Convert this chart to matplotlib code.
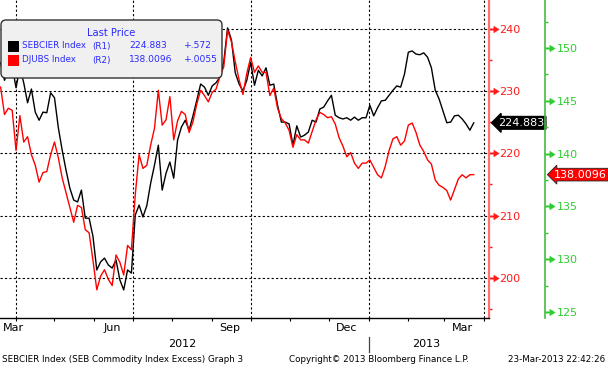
# -*- coding: UTF-8 -*-
import datetime as dt
import numpy as np
import pandas as pd
import matplotlib
matplotlib.use('Agg')
import matplotlib.pyplot as plt
import matplotlib.dates as mdates
from matplotlib.patches import FancyBboxPatch, Rectangle
from matplotlib.path import Path
from matplotlib.markers import MarkerStyle
from matplotlib.transforms import blended_transform_factory

# SEBCIER Index (R1), every 3 days from 20-Mar-2012
sebcier = [234.5, 231.7, 233.3, 234.0, 230.5, 233.7, 231.3, 228.1, 230.3, 226.6,
           225.3, 226.6, 226.5, 229.7, 228.9, 224.1, 220.5, 217.3, 214.4, 212.5,
           212.2, 214.1, 209.6, 209.6, 206.7, 201.3, 202.6, 203.2, 202.1, 201.6,
           202.9, 199.7, 198.1, 201.3, 200.8, 210.1, 211.7, 209.8, 211.6, 215.2,
           218.1, 221.3, 214.1, 216.8, 218.6, 216.0, 222.1, 224.2, 225.3, 223.7,
           226.0, 228.5, 231.1, 230.6, 229.3, 230.8, 231.3, 232.2, 234.6, 240.1,
           238.2, 232.9, 231.1, 230.0, 231.7, 234.6, 230.9, 233.3, 232.4, 233.7,
           230.9, 231.1, 227.7, 225.0, 225.0, 224.7, 221.3, 224.4, 222.6, 222.9,
           223.4, 225.3, 225.0, 227.1, 227.4, 228.4, 229.3, 226.1, 225.7, 225.5,
           225.7, 225.3, 225.8, 225.3, 225.7, 225.7, 227.7, 226.0, 227.3, 228.4,
           228.5, 229.3, 230.1, 230.8, 230.6, 232.7, 236.2, 236.4, 235.9, 235.8,
           236.1, 235.4, 233.7, 230.1, 228.7, 226.8, 224.9, 225.0, 226.0, 226.1,
           225.5, 224.7, 223.7, 224.883]

# DJUBS Index (R2)
djubs = [146.3, 143.7, 144.3, 144.1, 140.3, 143.6, 141.1, 141.6, 139.9, 138.9,
         137.3, 138.2, 138.3, 139.9, 141.1, 139.6, 137.7, 136.3, 134.9, 133.5,
         135.1, 134.9, 132.8, 132.5, 129.9, 127.1, 128.4, 129.0, 128.1, 127.5,
         130.4, 129.7, 128.5, 131.3, 130.9, 136.1, 139.9, 138.6, 138.9, 140.8,
         142.4, 146.0, 142.7, 143.2, 145.4, 141.3, 143.1, 144.0, 143.7, 142.0,
         143.0, 144.7, 146.0, 145.5, 144.9, 145.8, 146.1, 147.3, 148.2, 151.7,
         150.6, 148.7, 147.0, 145.6, 147.6, 149.1, 147.7, 148.3, 147.7, 147.7,
         145.5, 146.2, 144.3, 143.3, 142.9, 142.2, 140.6, 141.8, 141.3, 141.3,
         141.0, 142.1, 143.2, 143.9, 143.7, 143.4, 143.5, 142.8, 141.5, 140.7,
         139.7, 140.1, 139.1, 138.6, 139.1, 139.1, 139.4, 138.7, 138.0, 137.7,
         138.8, 140.3, 141.4, 141.6, 140.8, 141.2, 142.7, 142.9, 142.0, 140.8,
         140.2, 139.4, 139.0, 137.5, 137.0, 136.8, 136.5, 135.6, 136.6, 137.6,
         138.0, 137.7, 138.0, 138.0096]

dates = pd.date_range('2012-03-20', periods=len(sebcier), freq='3D')

r1_ticks = [200, 210, 220, 230, 240]
r1_minor = [195, 205, 215, 225, 235]
r2_ticks = [125, 130, 135, 140, 145, 150]
r2_minor = [127.5, 132.5, 137.5, 142.5, 147.5, 152.5]

month_labels = ['Mar', 'Jun', 'Sep', 'Dec', 'Mar']
month_label_dates = [dt.datetime(2012, 3, 30), dt.datetime(2012, 6, 15), dt.datetime(2012, 9, 15),
                     dt.datetime(2012, 12, 15), dt.datetime(2013, 3, 15)]
year_labels = ['2012', '2013']
year_label_dates = [dt.datetime(2012, 8, 9), dt.datetime(2013, 2, 15)]

RED = '#ff1a1a'
GREEN = '#2ecc2e'
BLUE = '#2a2aff'

W, H = 608, 368
fig = plt.figure(figsize=(W / 100, H / 100), dpi=100)
ax = fig.add_axes([0, 50 / H, 489 / W, 318 / H])
ax2 = ax.twinx()

ax.plot(dates, sebcier, color='black', lw=1.0)
ax2.plot(dates, djubs, color='#ff0000', lw=1.0)

ax.set_xlim(dt.datetime(2012, 3, 19, 12), dt.datetime(2013, 4, 4, 22))
ax.set_ylim(193.6, 244.57)
ax2.set_ylim(124.43, 154.55)

# spines
for s in ['left', 'top']:
    ax.spines[s].set_visible(False)
    ax2.spines[s].set_visible(False)
ax2.spines['bottom'].set_visible(False)
ax.spines['right'].set_color('#ff7070')
ax.spines['right'].set_linewidth(1.6)
ax2.spines['right'].set_position(('axes', 545 / 489))
ax2.spines['right'].set_color('#44bb44')
ax2.spines['right'].set_linewidth(1.2)
ax.spines['bottom'].set_linewidth(1.0)

# x axis
ax.xaxis.set_major_locator(mdates.MonthLocator(bymonth=[1, 4, 7, 10]))
ax.xaxis.set_minor_locator(mdates.MonthLocator())
ax.xaxis.set_major_formatter(plt.NullFormatter())
ax.tick_params(axis='x', which='both', direction='out', length=2.5, width=0.8, color='black')
ax.grid(True, which='major', color='black', linestyle=(0, (2, 2)), linewidth=0.8)

tr = blended_transform_factory(ax.transData, ax.transAxes)
for lab, d in zip(month_labels, month_label_dates):
    ax.text(mdates.date2num(d), -0.032, lab, transform=tr, ha='center', va='center', fontsize=8)
for lab, d in zip(year_labels, year_label_dates):
    ax.text(mdates.date2num(d), -0.082, lab, transform=tr, ha='center', va='center', fontsize=8)
ax.plot([mdates.date2num(dt.datetime(2013, 1, 1))] * 2, [-0.06, -0.107], color='#444444',
        lw=0.9, transform=tr, clip_on=False)

# right axes: arrow shaped major ticks
arrow = Path([(0, 0.07), (0.45, 0.07), (0.45, 0.34), (1, 0), (0.45, -0.34), (0.45, -0.07),
              (0, -0.07), (0, 0.07)],
             [Path.MOVETO] + [Path.LINETO] * 6 + [Path.CLOSEPOLY])

ax.yaxis.tick_right()
ax.set_yticks(r1_ticks)
ax.set_yticks(r1_minor, minor=True)
ax.tick_params(axis='y', which='major', direction='out', length=7, width=0.5, pad=0.5,
               colors=RED, labelsize=8)
ax.tick_params(axis='y', which='minor', direction='out', length=2.5, width=1, color=RED)
ax2.set_yticks(r2_ticks)
ax2.set_yticks(r2_minor, minor=True)
ax2.tick_params(axis='y', which='major', direction='out', length=7, width=0.5, pad=1.5,
                colors=GREEN, labelsize=8)
ax2.tick_params(axis='y', which='minor', direction='out', length=2.5, width=1, color=GREEN)
for a, c in [(ax, RED), (ax2, GREEN)]:
    for t in a.yaxis.get_major_ticks():
        t.tick2line.set_marker(MarkerStyle(arrow))
        t.tick2line.set_markersize(14)
        t.tick2line.set_markerfacecolor(c)
        t.tick2line.set_markeredgewidth(0.3)

# last value tags
tag_tr1 = blended_transform_factory(ax.transAxes, ax.transData)
ax.text(1.019, sebcier[-1], '224.883', transform=tag_tr1, ha='left', va='center',
        color='white', fontsize=8, clip_on=False, zorder=10,
        bbox=dict(boxstyle='larrow,pad=0.12', fc='black', ec='black'))
tag_tr2 = blended_transform_factory(ax2.transAxes, ax2.transData)
ax2.text(1.133, djubs[-1], '138.0096', transform=tag_tr2, ha='left', va='center',
         color='white', fontsize=8, clip_on=False, zorder=10,
         bbox=dict(boxstyle='larrow,pad=0.12', fc='#ff0000', ec='#222222', lw=0.6))

# legend box (pixel positions)
def inch(x, y):
    return x / 100, (H - y) / 100

box = FancyBboxPatch(inch(1, 78), 2.21, 0.58, boxstyle='round,pad=0,rounding_size=0.05',
                     fc='#f0f0f0', ec='#333333', lw=1.0, transform=fig.dpi_scale_trans, zorder=5)
fig.add_artist(box)
fig.text(*inch(111, 33), 'Last Price', transform=fig.dpi_scale_trans, color=BLUE,
         fontsize=7.2, ha='center', va='center', zorder=6)
rows = [('SEBCIER Index', '(R1)', '224.883', '+.572', 'black', 46),
        ('DJUBS Index', '(R2)', '138.0096', '+.0055', '#ff0000', 60)]
for name, r, last, chg, c, y in rows:
    fig.add_artist(Rectangle(inch(8, y + 5.5), 0.11, 0.11, fc=c, ec='none',
                             transform=fig.dpi_scale_trans, zorder=6))
    for txt, x in [(name, 22), (r, 92), (last, 129), (chg, 184)]:
        fig.text(*inch(x, y), txt, transform=fig.dpi_scale_trans, color=BLUE,
                 fontsize=6.6 if txt in (last, chg) else 6.3, ha='left', va='center', zorder=6)

# footer
fig.text(*inch(2, 360), 'SEBCIER Index (SEB Commodity Index Excess) Graph 3',
         transform=fig.dpi_scale_trans, fontsize=6.3, ha='left', va='center')
fig.text(*inch(289, 360), 'Copyright\u00a9 2013 Bloomberg Finance L.P.',
         transform=fig.dpi_scale_trans, fontsize=6.3, ha='left', va='center')
fig.text(*inch(605, 360), '23-Mar-2013 22:42:26',
         transform=fig.dpi_scale_trans, fontsize=6.3, ha='right', va='center')

fig.savefig('out.png', dpi=100)
